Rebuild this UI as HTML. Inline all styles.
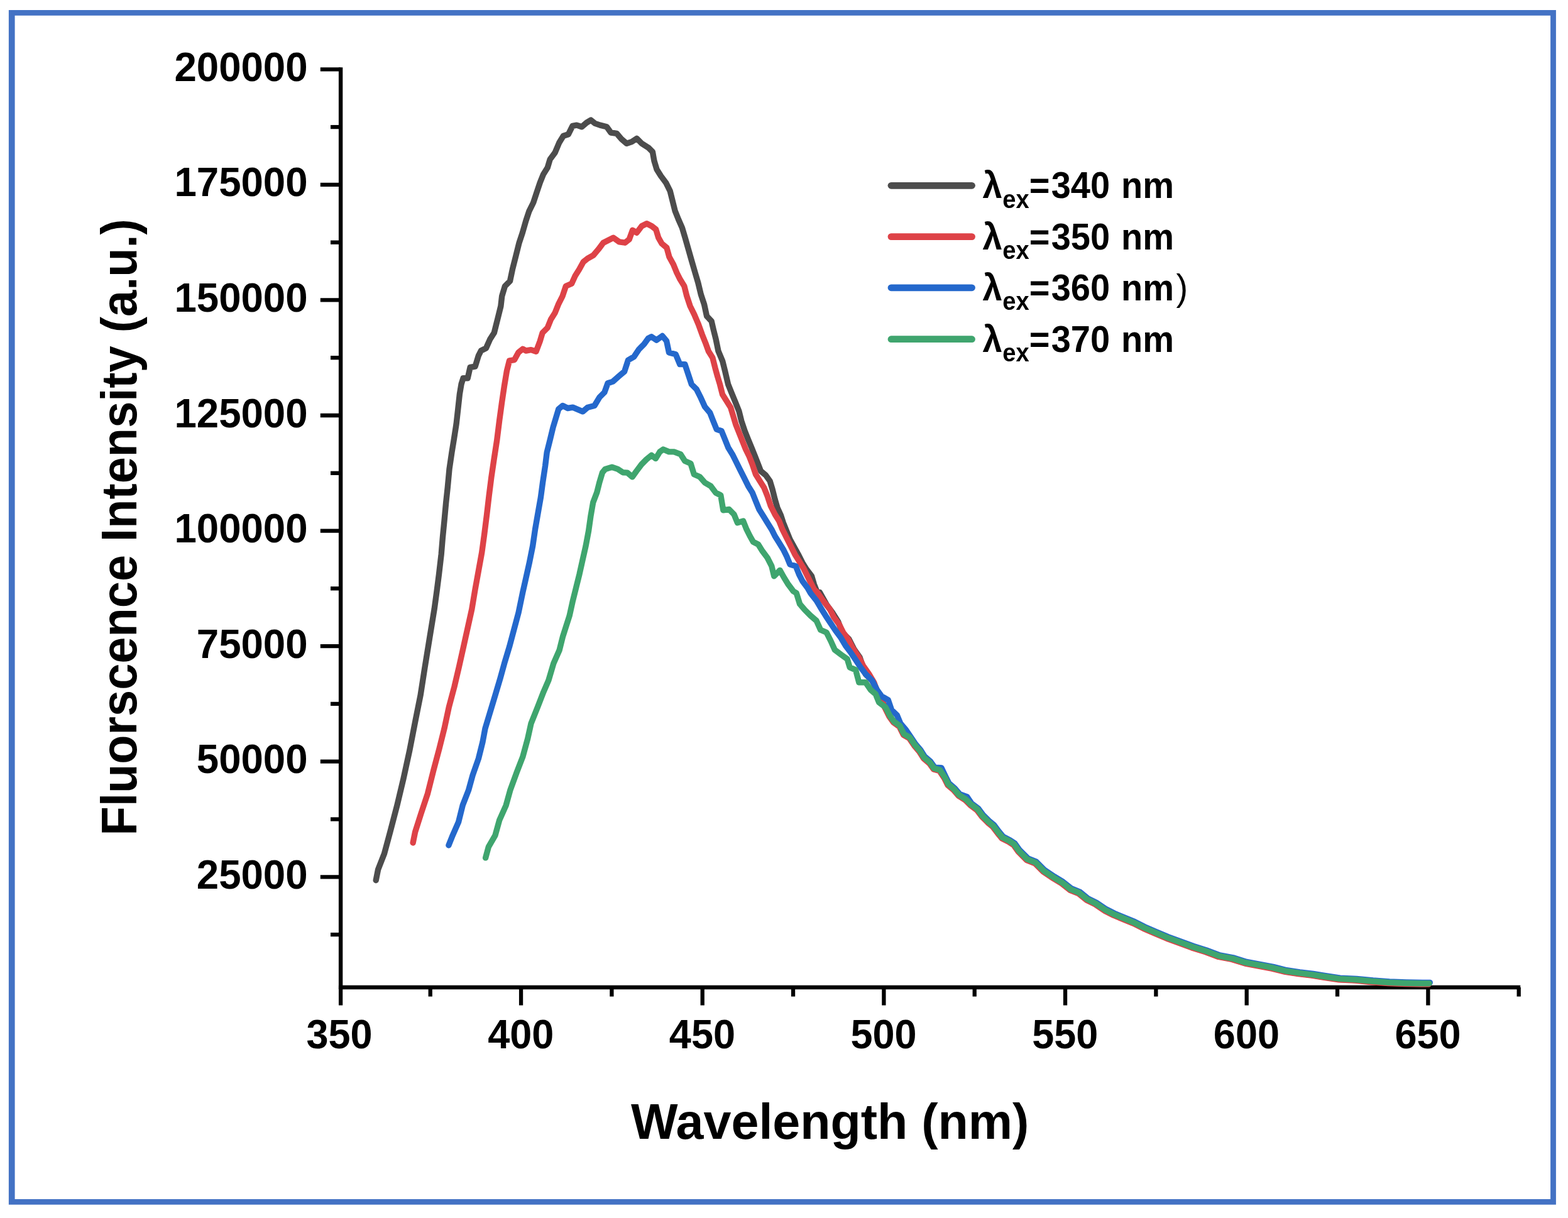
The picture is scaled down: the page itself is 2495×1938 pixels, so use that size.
<!DOCTYPE html>
<html lang="en">
<head>
<meta charset="utf-8">
<title>Fluorescence emission spectra</title>
<style>
html,body{margin:0;padding:0;background:#fff;}
body{width:2495px;height:1938px;overflow:hidden;}
svg{display:block;}
text{font-family:"Liberation Sans",Arial,Helvetica,sans-serif;font-weight:bold;fill:#000;}
.crv{fill:none;stroke-linejoin:round;stroke-linecap:round;}
.ax{stroke:#000;fill:none;}
</style>
</head>
<body>
<svg width="2495" height="1938" viewBox="0 0 2495 1938">
<rect x="0" y="0" width="2495" height="1938" fill="#ffffff"/>
<path fill="#4372c4" fill-rule="evenodd" d="M13.9 15.9H2475.9V1916.8H13.9Z M23.6 24.8H2467.1V1908.1H23.6Z"/>
<g class="ax">
<line x1="542.10" y1="107.20" x2="542.10" y2="1574.20" stroke-width="6.40"/>
<line x1="538.90" y1="1571.00" x2="2419.20" y2="1571.00" stroke-width="6.40"/>
<line x1="509.80" y1="110.30" x2="542.10" y2="110.30" stroke-width="6.30"/>
<line x1="526.00" y1="202.08" x2="542.10" y2="202.08" stroke-width="6.30"/>
<line x1="509.80" y1="293.87" x2="542.10" y2="293.87" stroke-width="6.30"/>
<line x1="526.00" y1="385.66" x2="542.10" y2="385.66" stroke-width="6.30"/>
<line x1="509.80" y1="477.44" x2="542.10" y2="477.44" stroke-width="6.30"/>
<line x1="526.00" y1="569.22" x2="542.10" y2="569.22" stroke-width="6.30"/>
<line x1="509.80" y1="661.01" x2="542.10" y2="661.01" stroke-width="6.30"/>
<line x1="526.00" y1="752.79" x2="542.10" y2="752.79" stroke-width="6.30"/>
<line x1="509.80" y1="844.58" x2="542.10" y2="844.58" stroke-width="6.30"/>
<line x1="526.00" y1="936.36" x2="542.10" y2="936.36" stroke-width="6.30"/>
<line x1="509.80" y1="1028.15" x2="542.10" y2="1028.15" stroke-width="6.30"/>
<line x1="526.00" y1="1119.93" x2="542.10" y2="1119.93" stroke-width="6.30"/>
<line x1="509.80" y1="1211.72" x2="542.10" y2="1211.72" stroke-width="6.30"/>
<line x1="526.00" y1="1303.50" x2="542.10" y2="1303.50" stroke-width="6.30"/>
<line x1="509.80" y1="1395.29" x2="542.10" y2="1395.29" stroke-width="6.30"/>
<line x1="526.00" y1="1487.07" x2="542.10" y2="1487.07" stroke-width="6.30"/>
<line x1="542.10" y1="1571.00" x2="542.10" y2="1599.60" stroke-width="6.30"/>
<line x1="684.73" y1="1571.00" x2="684.73" y2="1585.60" stroke-width="6.30"/>
<line x1="829.06" y1="1571.00" x2="829.06" y2="1599.60" stroke-width="6.30"/>
<line x1="973.39" y1="1571.00" x2="973.39" y2="1585.60" stroke-width="6.30"/>
<line x1="1117.72" y1="1571.00" x2="1117.72" y2="1599.60" stroke-width="6.30"/>
<line x1="1262.05" y1="1571.00" x2="1262.05" y2="1585.60" stroke-width="6.30"/>
<line x1="1406.38" y1="1571.00" x2="1406.38" y2="1599.60" stroke-width="6.30"/>
<line x1="1550.71" y1="1571.00" x2="1550.71" y2="1585.60" stroke-width="6.30"/>
<line x1="1695.04" y1="1571.00" x2="1695.04" y2="1599.60" stroke-width="6.30"/>
<line x1="1839.37" y1="1571.00" x2="1839.37" y2="1585.60" stroke-width="6.30"/>
<line x1="1983.70" y1="1571.00" x2="1983.70" y2="1599.60" stroke-width="6.30"/>
<line x1="2128.03" y1="1571.00" x2="2128.03" y2="1585.60" stroke-width="6.30"/>
<line x1="2272.36" y1="1571.00" x2="2272.36" y2="1599.60" stroke-width="6.30"/>
<line x1="2416.69" y1="1571.00" x2="2416.69" y2="1585.60" stroke-width="6.30"/>
</g>
<g font-size="63.60" text-anchor="end">
<text transform="translate(489.60 128.90) scale(1 1.012)">200000</text>
<text transform="translate(489.60 312.47) scale(1 1.012)">175000</text>
<text transform="translate(489.60 496.04) scale(1 1.012)">150000</text>
<text transform="translate(489.60 679.61) scale(1 1.012)">125000</text>
<text transform="translate(489.60 863.18) scale(1 1.012)">100000</text>
<text transform="translate(489.60 1046.75) scale(1 1.012)">75000</text>
<text transform="translate(489.60 1230.32) scale(1 1.012)">50000</text>
<text transform="translate(489.60 1413.89) scale(1 1.012)">25000</text>
</g>
<g font-size="63.00" text-anchor="middle">
<text transform="translate(540.10 1667.60) scale(1 1.020)">350</text>
<text transform="translate(828.76 1667.60) scale(1 1.020)">400</text>
<text transform="translate(1117.42 1667.60) scale(1 1.020)">450</text>
<text transform="translate(1406.08 1667.60) scale(1 1.020)">500</text>
<text transform="translate(1694.74 1667.60) scale(1 1.020)">550</text>
<text transform="translate(1983.40 1667.60) scale(1 1.020)">600</text>
<text transform="translate(2272.06 1667.60) scale(1 1.020)">650</text>
</g>
<text x="1320.70" y="1812.00" font-size="79.00" text-anchor="middle">Wavelength (nm)</text>
<text transform="translate(217.00 838.80) rotate(-90) scale(1 1.0500)" font-size="75.80" text-anchor="middle">Fluorscence Intensity (a.u.)</text>
<polyline class="crv" stroke="#4c4c4c" stroke-width="9.40" points="598.2,1400.7 601.6,1383.5 611.5,1358.3 620.8,1323.8 631.9,1281.3 642.0,1238.9 651.8,1193.7 660.6,1148.6 669.1,1106.2 675.7,1063.7 682.6,1021.2 691.1,969.3 695.1,940.1 698.5,913.6 702.2,881.7 704.4,855.2 707.0,828.7 709.7,799.5 712.3,775.6 715.0,746.4 718.9,719.9 722.4,698.6 726.1,674.7 728.8,650.8 731.4,627.0 734.1,611.0 737.0,601.8 744.2,601.8 748.1,584.5 756.1,583.2 761.4,565.9 765.4,558.0 773.4,554.0 779.6,540.1 786.3,529.5 791.6,508.3 796.9,487.0 798.7,471.1 803.5,455.2 811.5,447.2 815.4,428.7 820.8,407.4 826.1,386.2 831.4,370.3 836.7,351.7 842.0,335.8 848.6,322.5 853.9,306.6 859.2,290.7 864.5,277.4 871.2,266.8 875.2,253.5 883.1,242.9 889.8,227.0 896.4,216.3 904.4,213.7 911.0,200.4 917.6,199.1 925.6,201.8 933.5,195.1 940.2,191.1 946.8,196.4 954.8,199.1 965.4,201.8 972.0,211.0 981.3,212.4 989.3,221.7 997.2,228.3 1005.2,225.6 1013.2,220.3 1021.1,228.3 1031.7,234.9 1038.4,241.6 1041.0,256.2 1045.0,269.4 1051.6,280.0 1059.6,290.7 1066.2,303.9 1070.2,319.9 1074.2,335.8 1079.5,349.0 1085.4,362.3 1090.1,378.2 1095.4,396.8 1100.7,415.4 1106.1,434.0 1110.8,449.9 1115.3,468.5 1120.6,484.4 1124.6,503.0 1132.1,510.9 1135.2,524.2 1139.2,540.1 1143.0,558.7 1149.7,574.6 1153.7,590.6 1158.6,611.5 1163.9,624.7 1170.5,640.7 1175.8,653.9 1179.8,669.9 1185.1,685.8 1190.4,699.0 1195.9,712.3 1201.2,725.6 1206.5,738.9 1210.5,749.5 1218.5,756.1 1225.1,765.4 1229.1,778.7 1233.1,794.6 1237.0,807.9 1242.4,819.8 1246.3,831.7 1251.6,845.0 1257.0,858.3 1263.6,870.2 1270.2,882.2 1276.9,895.4 1283.5,906.1 1291.5,916.7 1295.4,929.9 1300.7,943.2 1304.4,942.5 1316.3,963.7 1324.3,974.3 1333.6,988.9 1340.2,1006.2 1350.8,1016.8 1358.8,1032.7 1368.1,1046.0 1377.3,1072.7 1387.9,1083.3 1395.1,1097.4 1408.8,1126.4 1415.5,1139.7 1422.1,1148.9 1431.4,1155.6 1438.0,1168.8 1447.3,1174.2 1455.3,1186.1 1463.2,1195.4 1469.9,1206.0 1479.2,1214.0 1485.8,1223.3 1495.1,1225.9 1503.1,1237.8 1508.4,1248.5 1517.6,1256.4 1525.6,1265.7 1536.2,1272.3 1544.2,1280.3 1554.8,1288.3 1562.8,1298.9 1572.1,1308.2 1580.0,1314.8 1588.0,1325.4 1594.6,1333.4 1605.2,1338.7 1613.2,1344.0 1620.8,1354.7 1634.1,1368.0 1647.4,1373.3 1660.6,1386.6 1676.6,1397.2 1689.8,1405.2 1703.1,1415.8 1716.4,1421.1 1729.6,1431.7 1742.9,1438.3 1758.8,1448.9 1772.1,1455.6 1788.0,1462.2 1804.0,1468.8 1819.9,1476.8 1838.5,1484.8 1857.0,1492.7 1875.6,1499.4 1896.8,1507.3 1918.1,1514.0 1939.3,1521.9 1960.5,1525.9 1981.8,1532.5 2003.0,1536.5 2024.2,1540.5 2045.5,1545.8 2066.7,1549.0 2087.9,1551.6 2104.5,1554.3 2130.8,1558.2 2157.0,1559.5 2183.2,1562.1 2209.5,1564.0 2235.7,1565.0 2261.9,1565.5 2273.7,1565.5"/>
<polyline class="crv" stroke="#de4247" stroke-width="9.40" points="657.1,1341.0 660.6,1323.8 669.9,1294.6 680.5,1262.7 689.8,1225.6 699.0,1191.1 707.0,1159.2 714.4,1124.7 722.9,1092.9 730.4,1061.0 737.5,1029.2 750.8,969.3 756.1,937.5 761.4,908.3 766.7,879.1 770.7,849.9 774.7,818.0 778.1,788.9 781.8,759.7 786.1,730.5 790.6,701.3 794.6,669.4 798.6,640.2 802.5,613.7 806.5,589.8 810.5,573.9 818.5,572.6 825.1,560.6 831.7,555.3 837.0,558.0 845.0,556.6 853.0,559.3 859.2,542.8 863.2,529.5 871.2,521.5 876.5,508.3 883.1,497.7 888.4,484.4 895.1,471.1 900.4,455.2 909.7,451.2 915.0,439.3 921.6,428.7 928.2,416.7 934.9,411.4 944.2,406.1 952.1,396.8 960.1,386.2 968.0,382.2 976.0,378.2 985.3,384.9 994.6,386.2 1001.2,380.9 1006.5,366.3 1013.2,370.3 1021.1,359.7 1029.1,355.7 1037.0,359.7 1043.7,365.0 1047.7,378.2 1053.0,387.5 1060.9,394.2 1064.9,408.8 1071.5,420.7 1076.9,434.0 1082.2,444.6 1088.8,455.2 1092.8,471.1 1098.1,487.0 1104.7,500.3 1111.4,516.2 1117.2,532.2 1122.5,545.4 1127.3,558.7 1133.9,569.3 1137.9,585.2 1141.5,598.2 1145.5,611.5 1149.5,627.4 1156.1,638.0 1162.7,648.6 1166.7,661.9 1170.7,675.2 1176.0,688.4 1181.3,701.7 1186.6,715.0 1191.9,725.6 1197.2,738.9 1202.5,754.8 1209.2,765.4 1215.8,776.0 1221.1,789.3 1226.4,805.2 1233.1,818.5 1239.7,829.1 1245.0,842.4 1251.6,855.6 1258.3,868.9 1264.9,882.2 1271.5,892.8 1278.2,903.4 1284.8,916.7 1290.1,927.3 1295.4,937.9 1300.4,942.5 1309.7,955.7 1320.3,969.0 1327.0,982.3 1334.9,992.9 1341.6,1006.2 1349.5,1016.8 1356.2,1030.0 1366.8,1046.0 1373.4,1059.2 1382.7,1072.5 1390.7,1085.8 1395.0,1097.6 1408.4,1127.0 1415.1,1140.3 1421.7,1149.5 1431.0,1156.2 1437.6,1169.4 1446.9,1174.8 1454.9,1186.7 1462.8,1196.0 1469.5,1206.6 1478.8,1214.6 1485.4,1223.9 1494.7,1226.5 1502.7,1238.4 1508.0,1249.1 1517.2,1257.0 1525.2,1266.3 1535.8,1272.9 1543.8,1280.9 1554.4,1288.9 1562.4,1299.5 1571.7,1308.8 1579.6,1315.4 1587.6,1326.0 1594.2,1334.0 1604.8,1339.3 1612.8,1344.6 1620.4,1355.3 1633.7,1368.6 1647.0,1373.9 1660.2,1387.2 1676.2,1397.8 1689.4,1405.8 1702.7,1416.4 1716.0,1421.7 1729.2,1432.3 1742.5,1438.9 1758.4,1449.5 1771.7,1456.2 1787.6,1462.8 1803.6,1469.4 1819.5,1477.4 1838.1,1485.4 1856.6,1493.3 1875.2,1500.0 1896.4,1507.9 1917.7,1514.6 1938.9,1522.5 1960.1,1526.5 1981.4,1533.1 2002.6,1537.1 2023.8,1541.1 2045.1,1546.4 2066.3,1549.6 2087.5,1552.2 2104.1,1554.9 2130.4,1558.8 2156.6,1560.1 2182.8,1562.7 2209.1,1564.6 2235.3,1565.6 2261.5,1566.1 2273.3,1566.1"/>
<polyline class="crv" stroke="#2468cc" stroke-width="9.40" points="713.9,1345.0 720.3,1329.1 729.6,1307.9 736.2,1281.3 745.5,1257.4 752.1,1233.5 761.4,1207.0 768.0,1180.5 772.0,1159.2 780.0,1132.7 788.0,1106.2 795.9,1079.6 802.5,1055.7 810.5,1029.2 825.1,974.6 831.7,942.8 836.5,921.5 842.4,895.0 847.7,868.5 851.6,841.9 856.2,815.4 860.4,791.5 863.6,767.6 867.6,741.1 870.2,719.9 875.5,698.6 880.0,680.0 884.8,664.1 888.8,650.8 895.4,645.5 903.4,649.5 911.4,648.2 927.3,654.8 935.2,648.2 945.9,645.5 953.8,632.3 961.8,624.3 967.1,609.7 975.1,607.1 985.7,597.8 993.6,591.1 999.5,573.0 1008.8,567.7 1016.8,555.7 1024.7,547.8 1031.4,538.5 1036.7,535.8 1044.6,541.1 1053.9,534.5 1060.6,542.5 1064.5,561.0 1075.2,563.7 1081.8,579.6 1089.8,579.6 1095.1,595.5 1100.4,611.5 1108.3,619.4 1115.0,632.7 1121.6,647.3 1129.6,656.6 1134.9,669.9 1140.2,683.1 1148.1,685.8 1153.5,699.0 1158.8,712.3 1165.4,722.9 1170.7,733.5 1177.3,746.8 1184.0,760.1 1190.6,773.4 1197.2,784.0 1202.5,797.2 1207.9,810.5 1214.5,821.1 1221.1,831.7 1227.8,842.4 1233.1,853.0 1239.7,863.6 1246.3,874.2 1251.6,884.8 1257.0,898.1 1266.2,900.7 1271.5,914.0 1276.9,924.6 1284.8,935.2 1289.8,943.8 1299.1,955.7 1307.1,969.0 1313.7,979.6 1321.7,991.6 1329.6,1003.5 1337.6,1014.1 1345.5,1027.4 1353.5,1038.0 1361.5,1049.9 1369.4,1061.9 1377.4,1072.5 1388.0,1083.1 1395.2,1097.2 1403.0,1107.9 1413.3,1113.9 1418.6,1129.5 1427.5,1138.2 1432.8,1151.1 1441.9,1161.9 1448.9,1172.1 1456.9,1184.0 1464.8,1193.3 1471.5,1203.9 1480.8,1211.9 1487.4,1221.2 1497.9,1221.6 1504.7,1235.7 1510.0,1246.4 1519.2,1254.3 1527.2,1263.6 1539.0,1268.0 1545.8,1278.2 1556.4,1286.2 1564.4,1296.8 1573.7,1306.1 1581.6,1312.7 1589.6,1323.3 1596.2,1331.3 1606.8,1336.6 1614.8,1341.9 1622.4,1352.6 1635.7,1365.9 1649.0,1371.2 1662.2,1384.5 1678.2,1395.1 1691.4,1403.1 1704.7,1413.7 1718.0,1419.0 1731.2,1429.6 1744.5,1436.2 1760.4,1446.8 1773.7,1453.5 1789.6,1460.1 1805.6,1466.7 1821.5,1474.7 1840.1,1482.7 1858.6,1490.6 1877.2,1497.3 1898.4,1505.2 1919.7,1511.9 1940.9,1519.8 1962.1,1523.8 1983.4,1530.4 2004.6,1534.4 2025.8,1538.4 2047.1,1543.7 2068.3,1546.9 2089.5,1549.5 2106.1,1552.2 2132.4,1556.1 2158.6,1557.4 2184.8,1560.0 2211.1,1561.9 2237.3,1562.9 2263.5,1563.4 2275.3,1563.4"/>
<polyline class="crv" stroke="#3fa56e" stroke-width="9.40" points="772.6,1364.9 777.3,1347.7 788.0,1329.1 794.6,1305.2 805.2,1281.3 811.8,1257.4 822.5,1228.2 831.7,1204.4 839.7,1175.2 845.0,1151.3 855.6,1124.7 864.9,1100.8 872.9,1082.3 880.8,1055.7 890.1,1034.5 895.4,1013.3 906.1,979.9 911.4,956.1 916.7,934.8 922.0,913.6 927.3,889.7 932.1,868.5 936.6,844.6 940.0,820.7 943.7,799.5 949.8,783.5 953.8,767.6 958.6,751.7 963.1,746.4 973.7,743.2 983.0,746.4 991.0,751.7 998.2,752.1 1006.2,758.8 1012.8,749.5 1020.8,738.9 1028.7,730.9 1036.7,724.3 1043.3,729.6 1049.9,718.9 1055.3,715.0 1064.5,718.9 1072.5,718.9 1083.1,722.9 1089.8,733.5 1099.0,737.5 1104.4,754.8 1113.6,758.8 1121.6,768.0 1130.9,773.4 1138.9,784.0 1146.8,788.0 1150.8,811.8 1160.1,810.5 1168.0,818.5 1173.4,831.7 1182.6,829.1 1188.0,842.4 1193.3,853.0 1198.6,862.3 1206.5,866.2 1213.2,876.9 1221.1,887.5 1227.8,900.7 1231.7,916.7 1241.0,907.4 1247.7,919.3 1254.3,929.9 1262.3,940.6 1267.3,943.8 1272.6,961.0 1280.5,970.3 1289.8,979.6 1299.1,987.6 1305.7,1002.2 1315.0,1006.2 1321.7,1019.4 1328.3,1034.0 1338.9,1042.0 1348.2,1048.6 1352.2,1061.9 1361.5,1065.9 1366.8,1085.8 1377.4,1085.8 1385.4,1097.7 1393.3,1104.4 1398.6,1117.6 1409.2,1125.6 1415.9,1138.9 1422.5,1148.1 1431.8,1154.8 1438.4,1168.0 1447.7,1173.4 1455.7,1185.3 1463.6,1194.6 1470.3,1205.2 1479.6,1213.2 1486.2,1222.5 1495.5,1225.1 1503.5,1237.0 1508.8,1247.7 1518.0,1255.6 1526.0,1264.9 1536.6,1271.5 1544.6,1279.5 1555.2,1287.5 1563.2,1298.1 1572.5,1307.4 1580.4,1314.0 1588.4,1324.6 1595.0,1332.6 1605.6,1337.9 1613.6,1343.2 1621.2,1353.9 1634.5,1367.2 1647.8,1372.5 1661.0,1385.8 1677.0,1396.4 1690.2,1404.4 1703.5,1415.0 1716.8,1420.3 1730.0,1430.9 1743.3,1437.5 1759.2,1448.1 1772.5,1454.8 1788.4,1461.4 1804.4,1468.0 1820.3,1476.0 1838.9,1484.0 1857.4,1491.9 1876.0,1498.6 1897.2,1506.5 1918.5,1513.2 1939.7,1521.1 1960.9,1525.1 1982.2,1531.7 2003.4,1535.7 2024.6,1539.7 2045.9,1545.0 2067.1,1548.2 2088.3,1550.8 2104.9,1553.5 2131.2,1557.4 2157.4,1558.7 2183.6,1561.3 2209.9,1563.2 2236.1,1564.2 2262.3,1564.7 2274.1,1564.7"/>
<line x1="1418.00" y1="295.30" x2="1546.50" y2="295.30" stroke="#4c4c4c" stroke-width="10.80" stroke-linecap="round"/>
<text transform="translate(1563.50 315.30) scale(1 1.050)" font-size="56.00">λ<tspan font-size="38.08" dy="14.67" dx="0.6">ex</tspan><tspan dy="-14.67" dx="0.2">=</tspan><tspan dx="2.2">340</tspan><tspan dx="2.4"> nm</tspan></text>
<line x1="1418.00" y1="376.60" x2="1546.50" y2="376.60" stroke="#de4247" stroke-width="10.80" stroke-linecap="round"/>
<text transform="translate(1563.50 396.60) scale(1 1.050)" font-size="56.00">λ<tspan font-size="38.08" dy="14.67" dx="0.6">ex</tspan><tspan dy="-14.67" dx="0.2">=</tspan><tspan dx="2.2">350</tspan><tspan dx="2.4"> nm</tspan></text>
<line x1="1418.00" y1="457.80" x2="1546.50" y2="457.80" stroke="#2468cc" stroke-width="10.80" stroke-linecap="round"/>
<text transform="translate(1563.50 477.80) scale(1 1.050)" font-size="56.00">λ<tspan font-size="38.08" dy="14.67" dx="0.6">ex</tspan><tspan dy="-14.67" dx="0.2">=</tspan><tspan dx="2.2">360</tspan><tspan dx="2.4"> nm</tspan><tspan font-weight="normal" dx="3.5">)</tspan></text>
<line x1="1418.00" y1="539.70" x2="1546.50" y2="539.70" stroke="#3fa56e" stroke-width="10.80" stroke-linecap="round"/>
<text transform="translate(1563.50 559.70) scale(1 1.050)" font-size="56.00">λ<tspan font-size="38.08" dy="14.67" dx="0.6">ex</tspan><tspan dy="-14.67" dx="0.2">=</tspan><tspan dx="2.2">370</tspan><tspan dx="2.4"> nm</tspan></text>
</svg>
</body>
</html>
